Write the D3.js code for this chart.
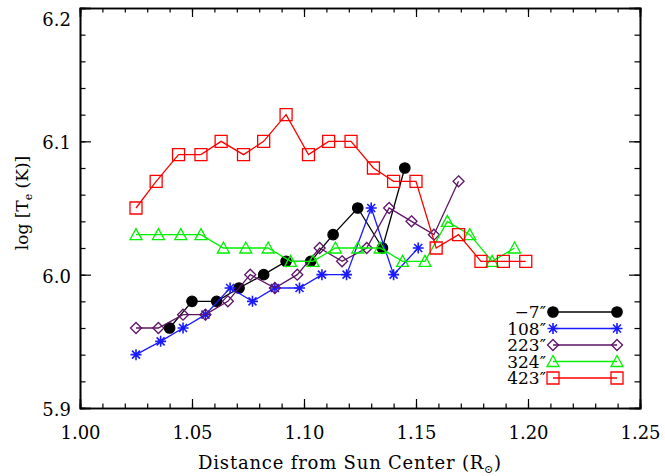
<!DOCTYPE html>
<html><head><meta charset="utf-8">
<script src="https://cdn.jsdelivr.net/npm/d3@7"></script>
<style>body{margin:0;background:#fff}svg text{font-family:"DejaVu Serif",serif;fill:#000}</style>
</head><body><svg id="c" width="665" height="476"></svg>
<script>
// ---- data ----
const xTicks = [1.00, 1.05, 1.10, 1.15, 1.20, 1.25];
const yTicks = [5.9, 6.0, 6.1, 6.2];
const seriesNames = ["\u22127\u2033", "108\u2033", "223\u2033", "324\u2033", "423\u2033"];

const xM7   = [1.040, 1.050, 1.061, 1.071, 1.082, 1.092, 1.103, 1.113, 1.124, 1.135, 1.145];
const yM7   = [5.96, 5.98, 5.98, 5.99, 6.00, 6.01, 6.01, 6.03, 6.05, 6.02, 6.08];

const x108  = [1.025, 1.036, 1.046, 1.056, 1.067, 1.077, 1.087, 1.098, 1.108, 1.119, 1.130, 1.140, 1.151];
const y108  = [5.94, 5.95, 5.96, 5.97, 5.99, 5.98, 5.99, 5.99, 6.00, 6.00, 6.05, 6.00, 6.02];

const x223  = [1.025, 1.035, 1.046, 1.056, 1.066, 1.076, 1.087, 1.097, 1.107, 1.117, 1.128, 1.138, 1.148, 1.158, 1.169];
const y223  = [5.96, 5.96, 5.97, 5.97, 5.98, 6.00, 5.99, 6.00, 6.02, 6.01, 6.02, 6.05, 6.04, 6.03, 6.07];

const x324  = [1.025, 1.035, 1.045, 1.054, 1.064, 1.074, 1.084, 1.094, 1.104, 1.114, 1.124, 1.134, 1.144, 1.154, 1.164, 1.174, 1.184, 1.194];
const y324  = [6.03, 6.03, 6.03, 6.03, 6.02, 6.02, 6.02, 6.01, 6.01, 6.02, 6.02, 6.02, 6.01, 6.01, 6.04, 6.03, 6.01, 6.02];

const x423  = [1.025, 1.034, 1.044, 1.054, 1.063, 1.073, 1.082, 1.092, 1.102, 1.111, 1.121, 1.131, 1.140, 1.150, 1.159, 1.169, 1.179, 1.189, 1.199];
const y423  = [6.05, 6.07, 6.09, 6.09, 6.10, 6.09, 6.10, 6.12, 6.09, 6.10, 6.10, 6.08, 6.07, 6.07, 6.02, 6.03, 6.01, 6.01, 6.01];

const series = [
  {name: seriesNames[0], x: xM7,  y: yM7,  color: "#000000", sym: "circle"},
  {name: seriesNames[1], x: x108, y: y108, color: "#1a1aff", sym: "star"},
  {name: seriesNames[2], x: x223, y: y223, color: "#5c1466", sym: "diamond"},
  {name: seriesNames[3], x: x324, y: y324, color: "#00f000", sym: "triangle"},
  {name: seriesNames[4], x: x423, y: y423, color: "#ff0000", sym: "square"}
];

// ---- layout ----
const svg = d3.select("#c");
const L = 80, R = 640, T = 8, B = 408;
const x = d3.scaleLinear().domain([1.00, 1.25]).range([L, R]);
const y = d3.scaleLinear().domain([5.9, 6.2]).range([B, T]);

function symPath(sym) {
  switch (sym) {
    case "circle":  return "M-5.2,0A5.2,5.2 0 1,0 5.2,0A5.2,5.2 0 1,0 -5.2,0Z";
    case "star":    return "M-5.5,0H5.5M0,-5.5V5.5M-4,-4L4,4M-4,4L4,-4";
    case "diamond": return "M0,-5.5L5.5,0L0,5.5L-5.5,0Z";
    case "triangle":return "M0,-6L6,5H-6Z";
    case "square":  return "M-6,-6H6V6H-6Z";
  }
}
function drawMark(g, sym, color, px, py) {
  g.append("path").attr("d", symPath(sym)).attr("transform", `translate(${px},${py})`)
    .attr("fill", sym === "circle" ? color : "none")
    .attr("stroke", color).attr("stroke-width", sym === "star" ? 1.6 : 1.3);
}

// axes frame with IDL-style inward ticks on all sides
const minorX = d3.range(100, 126).map(v => v / 100);
const minorY = d3.range(295, 311).map(v => v / 50);
const axB = d3.axisBottom(x).tickValues(xTicks).tickFormat(d3.format(".2f")).tickSize(-9).tickPadding(18);
const axT = d3.axisTop(x).tickValues(xTicks).tickFormat("").tickSize(-9);
const axL = d3.axisLeft(y).tickValues(yTicks).tickFormat(d3.format(".1f")).tickSize(-11).tickPadding(9);
const axR = d3.axisRight(y).tickValues(yTicks).tickFormat("").tickSize(-11);
const mxB = d3.axisBottom(x).tickValues(minorX).tickFormat("").tickSize(-4.5);
const mxT = d3.axisTop(x).tickValues(minorX).tickFormat("").tickSize(-4.5);
const myL = d3.axisLeft(y).tickValues(minorY).tickFormat("").tickSize(-5.5);
const myR = d3.axisRight(y).tickValues(minorY).tickFormat("").tickSize(-5.5);

function addAxis(ax, tr) {
  const g = svg.append("g").attr("transform", tr).call(ax);
  g.selectAll("path.domain").attr("stroke", "#000").attr("stroke-width", 1.6);
  g.selectAll("line").attr("stroke", "#000").attr("stroke-width", 1.2);
  g.selectAll("text").style("font-family", "DejaVu Serif").style("font-size", "18px").attr("fill", "#000");
  return g;
}
addAxis(mxB, `translate(0,${B})`); addAxis(mxT, `translate(0,${T})`);
addAxis(myL, `translate(${L},0)`); addAxis(myR, `translate(${R},0)`);
addAxis(axB, `translate(0,${B})`); addAxis(axT, `translate(0,${T})`);
const gl = addAxis(axL, `translate(${L},0)`); addAxis(axR, `translate(${R},0)`);
gl.selectAll("text").attr("dy", d => d === 6.2 ? "0.95em" : "0.42em");

// axis titles
const xt = svg.append("text").attr("x", (L + R) / 2 - 10).attr("y", 469).attr("text-anchor", "middle")
  .style("font-size", "18px").style("letter-spacing", "0.8px");
xt.append("tspan").text("Distance from Sun Center (R");
xt.append("tspan").text("\u2299").style("font-size", "11px").attr("dy", 4);
xt.append("tspan").text(")").attr("dy", -4);

const yt = svg.append("text").attr("transform", "translate(28,203) rotate(-90)").attr("text-anchor", "middle").style("font-size", "17px");
yt.append("tspan").text("log [T");
yt.append("tspan").text("e").style("font-size", "11px").attr("dy", 4);
yt.append("tspan").text(" (K)]").attr("dy", -4);

// series
const line = d3.line();
series.forEach(s => {
  const pts = s.x.map((d, i) => [x(d), y(s.y[i])]);
  svg.append("path").attr("d", line(pts)).attr("fill", "none").attr("stroke", s.color).attr("stroke-width", 1.3);
  const g = svg.append("g");
  pts.forEach(p => drawMark(g, s.sym, s.color, p[0], p[1]));
});

// legend
const legY = d3.scalePoint().domain(seriesNames).range([312, 378]);
series.forEach(s => {
  const yy = legY(s.name);
  svg.append("text").attr("x", 546).attr("y", yy + 6).attr("text-anchor", "end").style("font-size", "17px").text(s.name);
  svg.append("line").attr("x1", 553).attr("x2", 617).attr("y1", yy).attr("y2", yy).attr("stroke", s.color).attr("stroke-width", 1.3);
  const g = svg.append("g");
  drawMark(g, s.sym, s.color, 553, yy);
  drawMark(g, s.sym, s.color, 617, yy);
});
</script></body></html>
